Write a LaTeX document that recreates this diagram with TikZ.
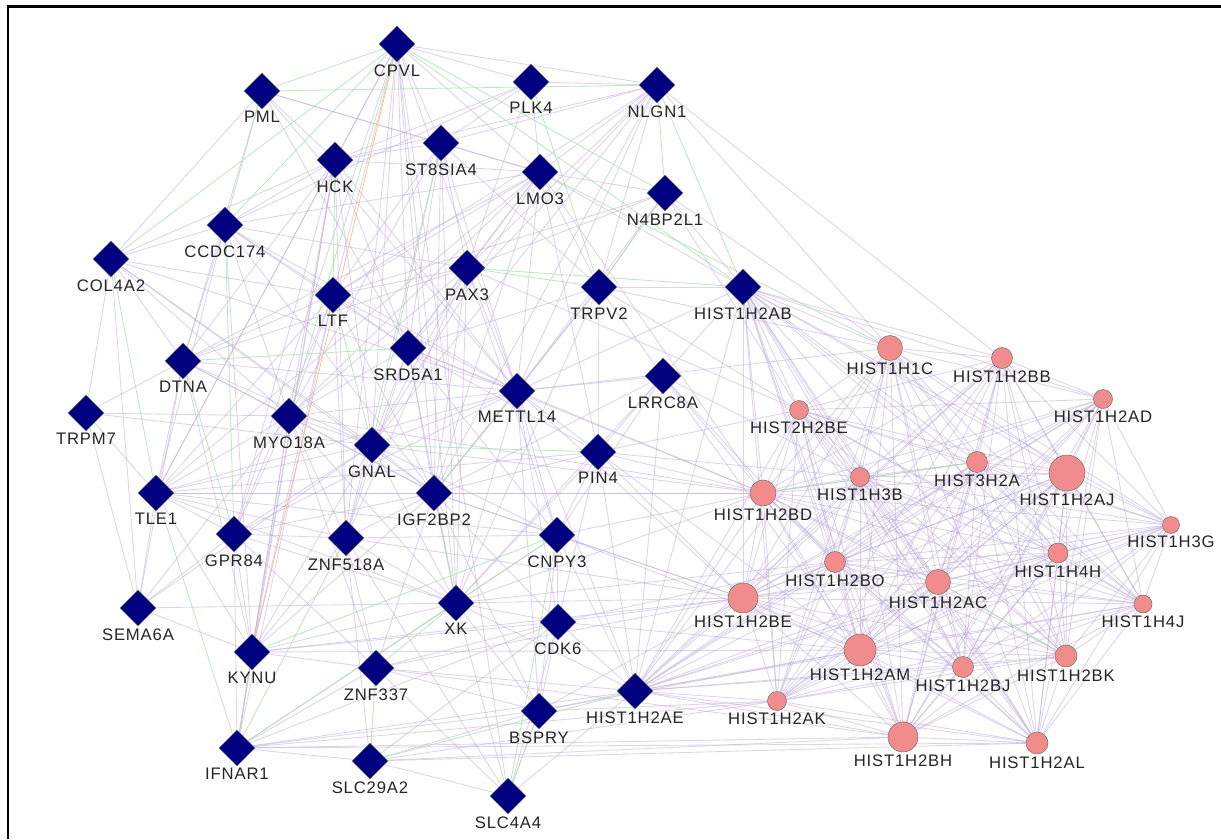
\documentclass[tikz,border=0pt]{standalone}
\usepackage{fontspec}
\newfontfamily\lblfont{Liberation Sans}[LetterSpace=5]
\usetikzlibrary{shapes.geometric,backgrounds}
\definecolor{navy}{RGB}{0,0,128}
\definecolor{hpink}{RGB}{242,140,140}
\definecolor{lav}{RGB}{190,168,215}
\definecolor{grn}{RGB}{170,225,170}
\definecolor{org}{RGB}{245,195,145}

\begin{document}
\begin{tikzpicture}[x=0.02cm,y=-0.02cm]
\tikzstyle{t}=[font=\lblfont\fontsize{9.5}{11}\selectfont,text=black!85,inner sep=1pt]
\tikzstyle{g}=[diamond,draw=black!55,line width=0.3pt,fill=navy,minimum width=0.72cm,minimum height=0.72cm,inner sep=0pt,label distance=3pt]
\tikzstyle{h}=[circle,draw=black!55,line width=0.3pt,fill=hpink,inner sep=0pt,label distance=2pt]
\tikzstyle{e}=[lav,line width=0.5pt,opacity=0.5]
\tikzstyle{f}=[grn,line width=0.45pt,opacity=0.8]
\useasboundingbox (0,0) rectangle (1221,839);
\draw[line width=1.5pt] (8,839) -- (8,6.5) -- (1221,6.5);

\node[g,label={[t]below:CPVL}] (cpvl) at (397,44) {};
\node[g,label={[t]below:PML}] (pml) at (262,91) {};
\node[g,label={[t]below:PLK4}] (plk4) at (531,82) {};
\node[g,label={[t]below:NLGN1}] (nlgn1) at (657,85) {};
\node[g,label={[t]below:HCK}] (hck) at (335,160) {};
\node[g,label={[t]below:ST8SIA4}] (st8sia4) at (441,143) {};
\node[g,label={[t]below:LMO3}] (lmo3) at (540,172) {};
\node[g,label={[t]below:N4BP2L1}] (n4bp2l1) at (665,193) {};
\node[g,label={[t]below:CCDC174}] (ccdc174) at (225,225) {};
\node[g,label={[t]below:COL4A2}] (col4a2) at (111,259) {};
\node[g,label={[t]below:PAX3}] (pax3) at (467,268) {};
\node[g,label={[t]below:TRPV2}] (trpv2) at (599,287) {};
\node[g,label={[t]below:HIST1H2AB}] (hist1h2ab) at (743,287) {};
\node[g,label={[t]below:LTF}] (ltf) at (333,295) {};
\node[g,label={[t]below:SRD5A1}] (srd5a1) at (408,348) {};
\node[g,label={[t]below:DTNA}] (dtna) at (183,361) {};
\node[g,label={[t]below:METTL14}] (mettl14) at (517,391) {};
\node[g,label={[t]below:LRRC8A}] (lrrc8a) at (663,376) {};
\node[g,label={[t]below:TRPM7}] (trpm7) at (86,413) {};
\node[g,label={[t]below:MYO18A}] (myo18a) at (289,416) {};
\node[g,label={[t]below:GNAL}] (gnal) at (372,445) {};
\node[g,label={[t]below:PIN4}] (pin4) at (598,452) {};
\node[g,label={[t]below:TLE1}] (tle1) at (156,493) {};
\node[g,label={[t]below:IGF2BP2}] (igf2bp2) at (434,493) {};
\node[g,label={[t]below:GPR84}] (gpr84) at (234,534) {};
\node[g,label={[t]below:ZNF518A}] (znf518a) at (346,538) {};
\node[g,label={[t]below:CNPY3}] (cnpy3) at (557,535) {};
\node[g,label={[t]below:SEMA6A}] (sema6a) at (138,608) {};
\node[g,label={[t]below:XK}] (xk) at (456,603) {};
\node[g,label={[t]below:CDK6}] (cdk6) at (558,622) {};
\node[g,label={[t]below:KYNU}] (kynu) at (252,652) {};
\node[g,label={[t]below:ZNF337}] (znf337) at (376,668) {};
\node[g,label={[t]below:HIST1H2AE}] (hist1h2ae) at (635,691) {};
\node[g,label={[t]below:BSPRY}] (bspry) at (539,711) {};
\node[g,label={[t]below:IFNAR1}] (ifnar1) at (237,748) {};
\node[g,label={[t]below:SLC29A2}] (slc29a2) at (370,761) {};
\node[g,label={[t]below:SLC4A4}] (slc4a4) at (508,796) {};

\node[h,minimum size=0.50cm,label={[t]below:HIST1H1C}] (hist1h1c) at (890,348) {};
\node[h,minimum size=0.42cm,label={[t]below:HIST1H2BB}] (hist1h2bb) at (1002,358) {};
\node[h,minimum size=0.38cm,label={[t]below:HIST1H2AD}] (hist1h2ad) at (1103,399) {};
\node[h,minimum size=0.38cm,label={[t]below:HIST2H2BE}] (hist2h2be) at (799,410) {};
\node[h,minimum size=0.38cm,label={[t]below:HIST1H3B}] (hist1h3b) at (860,477) {};
\node[h,minimum size=0.42cm,label={[t]below:HIST3H2A}] (hist3h2a) at (977,462) {};
\node[h,minimum size=0.72cm,label={[t]below:HIST1H2AJ}] (hist1h2aj) at (1067,473) {};
\node[h,minimum size=0.52cm,label={[t]below:HIST1H2BD}] (hist1h2bd) at (763,493) {};
\node[h,minimum size=0.34cm,label={[t]below:HIST1H3G}] (hist1h3g) at (1171,525) {};
\node[h,minimum size=0.42cm,label={[t]below:HIST1H2BO}] (hist1h2bo) at (835,562) {};
\node[h,minimum size=0.40cm,label={[t]below:HIST1H4H}] (hist1h4h) at (1058,553) {};
\node[h,minimum size=0.50cm,label={[t]below:HIST1H2AC}] (hist1h2ac) at (938,582) {};
\node[h,minimum size=0.60cm,label={[t]below:HIST1H2BE}] (hist1h2be) at (743,598) {};
\node[h,minimum size=0.36cm,label={[t]below:HIST1H4J}] (hist1h4j) at (1143,604) {};
\node[h,minimum size=0.64cm,label={[t]below:HIST1H2AM}] (hist1h2am) at (860,650) {};
\node[h,minimum size=0.42cm,label={[t]below:HIST1H2BJ}] (hist1h2bj) at (963,667) {};
\node[h,minimum size=0.44cm,label={[t]below:HIST1H2BK}] (hist1h2bk) at (1066,656) {};
\node[h,minimum size=0.38cm,label={[t]below:HIST1H2AK}] (hist1h2ak) at (777,701) {};
\node[h,minimum size=0.60cm,label={[t]below:HIST1H2BH}] (hist1h2bh) at (903,737) {};
\node[h,minimum size=0.44cm,label={[t]below:HIST1H2AL}] (hist1h2al) at (1037,743) {};

\begin{scope}[on background layer]
\def\hlist{hist1h1c,hist1h2bb,hist1h2ad,hist2h2be,hist1h3b,hist3h2a,hist1h2aj,hist1h2bd,hist1h3g,hist1h2bo,hist1h4h,hist1h2ac,hist1h2be,hist1h4j,hist1h2am,hist1h2bj,hist1h2bk,hist1h2ak,hist1h2bh,hist1h2al,hist1h2ab,hist1h2ae}
\foreach \a [count=\i] in \hlist {
  \foreach \b [count=\j] in \hlist {
    \ifnum\j>\i \draw[e] (\a) -- (\b); \fi
  }
}
\foreach \a/\b in {cpvl/plk4,cpvl/nlgn1,cpvl/hck,cpvl/st8sia4,cpvl/lmo3,cpvl/ltf,cpvl/gnal,cpvl/igf2bp2,
  cpvl/gpr84,cpvl/znf518a,cpvl/tle1,cpvl/xk,cpvl/slc4a4,cpvl/mettl14,cpvl/srd5a1,
  pml/hck,pml/dtna,pml/lmo3,pml/mettl14,pml/st8sia4,pml/srd5a1,pml/col4a2,
  plk4/lmo3,plk4/nlgn1,plk4/st8sia4,plk4/hck,plk4/pax3,plk4/ccdc174,
  nlgn1/lmo3,nlgn1/st8sia4,nlgn1/pax3,nlgn1/trpv2,nlgn1/ltf,nlgn1/mettl14,nlgn1/igf2bp2,nlgn1/srd5a1,
  nlgn1/gnal,nlgn1/hist1h1c,nlgn1/hist1h2bb,nlgn1/hck,
  hck/ccdc174,hck/col4a2,hck/st8sia4,hck/myo18a,hck/gnal,hck/kynu,hck/gpr84,hck/ifnar1,hck/tle1,
  hck/dtna,hck/mettl14,hck/srd5a1,hck/lmo3,hck/znf518a,
  st8sia4/lmo3,st8sia4/pax3,st8sia4/ltf,st8sia4/srd5a1,st8sia4/trpv2,st8sia4/mettl14,st8sia4/myo18a,
  st8sia4/igf2bp2,st8sia4/znf518a,st8sia4/xk,
  lmo3/pax3,lmo3/n4bp2l1,lmo3/trpv2,lmo3/myo18a,lmo3/mettl14,lmo3/srd5a1,lmo3/gnal,lmo3/ltf,lmo3/dtna,
  lmo3/ccdc174,lmo3/tle1,lmo3/igf2bp2,lmo3/pin4,lmo3/hist1h2bd,
  n4bp2l1/trpv2,n4bp2l1/ltf,n4bp2l1/pax3,n4bp2l1/mettl14,n4bp2l1/hist1h1c,n4bp2l1/hist2h2be,
  ccdc174/col4a2,ccdc174/dtna,ccdc174/ltf,ccdc174/myo18a,ccdc174/tle1,ccdc174/srd5a1,ccdc174/pax3,
  ccdc174/mettl14,ccdc174/kynu,ccdc174/igf2bp2,
  col4a2/dtna,col4a2/trpm7,col4a2/ltf,col4a2/myo18a,col4a2/sema6a,col4a2/gnal,col4a2/mettl14,col4a2/igf2bp2,
  pax3/ltf,pax3/srd5a1,pax3/mettl14,pax3/myo18a,pax3/gnal,pax3/igf2bp2,pax3/xk,pax3/cnpy3,pax3/znf518a,
  pax3/dtna,pax3/hist2h2be,
  trpv2/mettl14,trpv2/pin4,trpv2/lrrc8a,trpv2/srd5a1,trpv2/igf2bp2,trpv2/xk,trpv2/hist1h1c,trpv2/hist2h2be,
  ltf/srd5a1,ltf/dtna,ltf/myo18a,ltf/mettl14,ltf/tle1,ltf/gpr84,ltf/kynu,ltf/znf518a,ltf/igf2bp2,ltf/ifnar1,
  srd5a1/mettl14,srd5a1/gnal,srd5a1/myo18a,srd5a1/igf2bp2,srd5a1/pin4,srd5a1/xk,srd5a1/cnpy3,
  srd5a1/znf518a,srd5a1/hist1h2bd,
  dtna/trpm7,dtna/myo18a,dtna/tle1,dtna/mettl14,dtna/gnal,dtna/kynu,dtna/sema6a,dtna/igf2bp2,
  mettl14/gnal,mettl14/igf2bp2,mettl14/pin4,mettl14/cnpy3,mettl14/lrrc8a,mettl14/xk,mettl14/myo18a,
  mettl14/tle1,mettl14/gpr84,mettl14/cdk6,mettl14/bspry,mettl14/hist1h2bd,mettl14/hist1h2be,mettl14/hist1h1c,
  lrrc8a/pin4,lrrc8a/cnpy3,lrrc8a/xk,lrrc8a/igf2bp2,lrrc8a/hist1h2bd,lrrc8a/hist1h2bo,lrrc8a/hist1h2am,
  lrrc8a/hist1h3b,
  trpm7/tle1,trpm7/myo18a,trpm7/sema6a,trpm7/gnal,
  myo18a/gnal,myo18a/tle1,myo18a/gpr84,myo18a/kynu,myo18a/igf2bp2,myo18a/znf518a,myo18a/xk,myo18a/ifnar1,
  myo18a/znf337,myo18a/sema6a,myo18a/hist1h2bd,
  gnal/igf2bp2,gnal/tle1,gnal/gpr84,gnal/znf518a,gnal/xk,gnal/kynu,gnal/cnpy3,gnal/hist1h2bd,
  pin4/igf2bp2,pin4/cnpy3,pin4/xk,pin4/cdk6,pin4/hist1h2bd,pin4/hist1h2be,pin4/hist1h2am,pin4/hist2h2be,
  pin4/hist1h3b,
  tle1/gpr84,tle1/sema6a,tle1/igf2bp2,tle1/znf518a,tle1/kynu,tle1/xk,tle1/cnpy3,tle1/pin4,tle1/hist1h2bd,
  igf2bp2/znf518a,igf2bp2/xk,igf2bp2/cnpy3,igf2bp2/gpr84,igf2bp2/cdk6,igf2bp2/znf337,igf2bp2/kynu,
  igf2bp2/bspry,igf2bp2/hist1h2be,igf2bp2/hist1h2bd,
  gpr84/sema6a,gpr84/kynu,gpr84/ifnar1,gpr84/znf518a,gpr84/xk,gpr84/znf337,
  znf518a/xk,znf518a/kynu,znf518a/znf337,znf518a/slc29a2,znf518a/cnpy3,znf518a/slc4a4,znf518a/hist1h2be,
  cnpy3/xk,cnpy3/cdk6,cnpy3/bspry,cnpy3/hist1h2be,cnpy3/hist1h2bd,cnpy3/hist1h2am,
  sema6a/kynu,sema6a/xk,sema6a/gnal,
  xk/cdk6,xk/bspry,xk/slc4a4,xk/kynu,xk/hist1h2be,xk/hist1h2bd,xk/hist1h2bo,
  cdk6/bspry,cdk6/slc4a4,cdk6/hist1h2be,cdk6/hist1h2bo,cdk6/hist1h2am,
  kynu/ifnar1,kynu/znf337,kynu/cdk6,kynu/hist1h2be,kynu/hist1h2am,
  znf337/slc4a4,znf337/bspry,znf337/ifnar1,znf337/cdk6,znf337/hist1h2bh,znf337/hist1h2be,
  bspry/slc4a4,bspry/hist1h2be,bspry/hist1h2am,bspry/hist1h2ak,
  ifnar1/slc29a2,ifnar1/bspry,ifnar1/cdk6,ifnar1/xk,ifnar1/hist1h2bh,ifnar1/hist1h2al,ifnar1/hist1h2ak,
  slc29a2/slc4a4,slc29a2/bspry,slc29a2/cdk6,slc29a2/hist1h2bh,slc29a2/hist1h2ak,slc29a2/hist1h2al,
  hist1h2ab/lmo3,hist1h2ab/n4bp2l1,hist1h2ab/trpv2,hist1h2ab/mettl14,hist1h2ab/lrrc8a,
  hist1h2ae/bspry,hist1h2ae/cdk6,hist1h2ae/xk,hist1h2ae/cnpy3,hist1h2ae/pin4,hist1h2ae/slc4a4,
  hist1h2ae/znf337,hist1h2ae/ifnar1,hist1h2ae/mettl14,hist1h2ae/lrrc8a}
  \draw[e] (\a) -- (\b);
\foreach \a/\b in {cpvl/pml,cpvl/ccdc174,cpvl/col4a2,pml/ccdc174,pml/nlgn1,cpvl/n4bp2l1,cpvl/hist1h2ab,
  cpvl/myo18a,nlgn1/hist1h2ab,nlgn1/n4bp2l1,lmo3/hist1h1c,st8sia4/gnal,hck/ltf,ltf/gnal,col4a2/tle1,
  dtna/gpr84,tle1/ifnar1,ifnar1/kynu,ifnar1/znf518a,xk/znf337,slc29a2/znf337,slc4a4/bspry,slc4a4/cnpy3,
  slc29a2/hist1h2ae,pax3/trpv2,n4bp2l1/trpv2,ccdc174/gpr84,dtna/srd5a1,mettl14/igf2bp2,pax3/hist1h2ab,
  hist1h2bd/hist3h2a,hist1h2ac/hist1h2bk,xk/igf2bp2,gnal/pin4,kynu/cnpy3,ifnar1/cnpy3,plk4/trpv2}
  \draw[f] (\a) -- (\b);
\draw[org,line width=0.45pt] (cpvl) -- (kynu);
\end{scope}
\end{tikzpicture}
\end{document}
